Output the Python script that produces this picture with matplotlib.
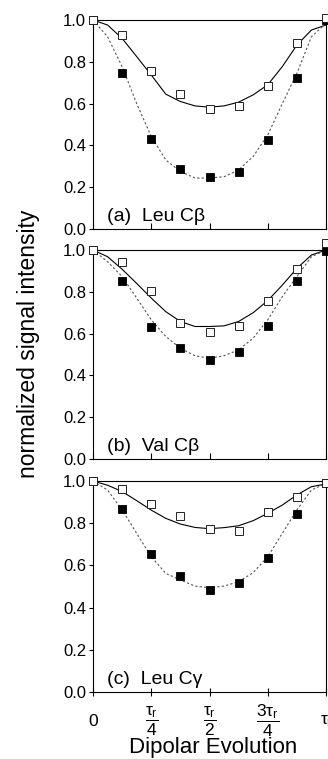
import matplotlib
matplotlib.use("Agg")
from matplotlib import pyplot as plt

plt.rcParams['font.family'] = ['Liberation Sans', 'DejaVu Sans']
plt.rcParams['mathtext.fontset'] = 'custom'
plt.rcParams['mathtext.rm'] = 'Liberation Sans'
plt.rcParams['mathtext.it'] = 'Liberation Sans'

# dipolar evolution time, in units of tau_r
x_pts = [0, 1/8, 2/8, 3/8, 4/8, 5/8, 6/8, 7/8, 1]
x_fit = [0, 1/16, 1/8, 3/16, 1/4, 5/16, 3/8, 7/16, 1/2,
         9/16, 5/8, 11/16, 3/4, 13/16, 7/8, 15/16, 1]

panel_labels = ['(a)  Leu C\u03b2', '(b)  Val C\u03b2', '(c)  Leu C\u03b3']

# open squares (reference) / filled squares (dephased)
open_a = [1.0, 0.928, 0.758, 0.648, 0.572, 0.589, 0.686, 0.892, 1.01]
filled_a = [1.0, 0.747, 0.433, 0.287, 0.247, 0.274, 0.425, 0.721, 1.0]
open_b = [1.0, 0.941, 0.803, 0.653, 0.607, 0.637, 0.758, 0.911, 1.035]
filled_b = [1.0, 0.854, 0.631, 0.533, 0.475, 0.511, 0.637, 0.850, 0.997]
open_c = [1.0, 0.964, 0.891, 0.834, 0.774, 0.763, 0.853, 0.926, 0.989]
filled_c = [1.0, 0.869, 0.654, 0.548, 0.482, 0.515, 0.637, 0.844, 0.99]

# simulated curves (solid for open, dashed for filled)
solid_a = [1.0, 0.976, 0.912, 0.825, 0.737, 0.645, 0.61, 0.589, 0.583,
           0.589, 0.607, 0.642, 0.69, 0.777, 0.88, 0.952, 0.976]
dash_a = [1.0, 0.92, 0.777, 0.60, 0.443, 0.33, 0.275, 0.244, 0.244,
          0.25, 0.283, 0.347, 0.45, 0.60, 0.745, 0.92, 0.984]
solid_b = [1.0, 0.968, 0.908, 0.84, 0.77, 0.705, 0.658, 0.634, 0.634,
           0.637, 0.658, 0.70, 0.758, 0.832, 0.912, 0.976, 1.0]
dash_b = [1.0, 0.944, 0.873, 0.77, 0.666, 0.586, 0.53, 0.494, 0.482,
          0.494, 0.522, 0.578, 0.666, 0.777, 0.873, 0.968, 1.0]
solid_c = [1.0, 0.98, 0.95, 0.907, 0.862, 0.823, 0.796, 0.78, 0.774,
           0.779, 0.788, 0.812, 0.847, 0.886, 0.934, 0.973, 0.986]
dash_c = [1.0, 0.957, 0.863, 0.752, 0.641, 0.562, 0.531, 0.502, 0.494,
          0.502, 0.523, 0.566, 0.641, 0.752, 0.863, 0.957, 0.989]

x_ticks = [0, 0.25, 0.5, 0.75, 1.0]
x_ticklabels = ['0', r'$\dfrac{\tau_r}{4}$', r'$\dfrac{\tau_r}{2}$',
                r'$\dfrac{3\tau_r}{4}$', r'$\tau_r$']
y_ticks = [0.0, 0.2, 0.4, 0.6, 0.8, 1.0]

panels = [
    (open_a, filled_a, solid_a, dash_a),
    (open_b, filled_b, solid_b, dash_b),
    (open_c, filled_c, solid_c, dash_c),
]

W, H = 328, 759
fig = plt.figure(figsize=(W / 100, H / 100), dpi=100)

tops = [20, 250, 481]
bottoms = [229, 459, 692]
left, right = 93, 326

for i, (op, fi, so, da) in enumerate(panels):
    ax = fig.add_axes([left / W, 1 - bottoms[i] / H,
                       (right - left) / W, (bottoms[i] - tops[i]) / H])
    ax.plot(x_fit, so, color='black', lw=0.8)
    ax.plot(x_fit, da, color='#555555', lw=0.8, dashes=(2, 2))
    ax.plot(x_pts, fi, 's', ms=5.2, mfc='black', mec='black', mew=0.6,
            clip_on=False, zorder=3)
    ax.plot(x_pts, op, 's', ms=5.2, mfc='white', mec='#222222', mew=0.7,
            clip_on=False, zorder=4)
    ax.set_xlim(0, 1)
    ax.set_ylim(0, 1)
    ax.set_yticks(y_ticks)
    ax.set_yticklabels(['%.1f' % v for v in y_ticks])
    ax.set_xticks(x_ticks)
    ax.tick_params(axis='y', direction='out', length=3, width=0.8,
                   labelsize=12, pad=2)
    ax.tick_params(axis='x', direction='in', length=4, width=0.8)
    for sp in ax.spines.values():
        sp.set_linewidth(0.8)
    ax.text(0.058, 0.036, panel_labels[i], transform=ax.transAxes,
            fontsize=14, ha='left', va='baseline')
    if i < 2:
        ax.set_xticklabels([])
    else:
        ax.set_xticklabels(x_ticklabels, fontsize=12.5)
        ax.tick_params(axis='x', direction='inout', length=6, pad=18)
        for lab in ax.get_xticklabels():
            lab.set_va('center')

fig.text(213 / W, 1 - 753 / H, 'Dipolar Evolution', ha='center',
         va='baseline', fontsize=16)
fig.text(29 / W, 1 - 344 / H, 'normalized signal intensity', rotation=90,
         ha='center', va='center', fontsize=16.5)

fig.savefig('out.png', dpi=100)
